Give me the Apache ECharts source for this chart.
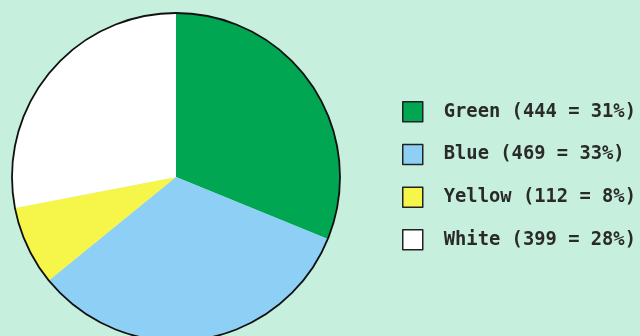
<!DOCTYPE html>
<html>
<head>
<meta charset="utf-8">
<script src="https://cdn.jsdelivr.net/npm/echarts@6/dist/echarts.min.js"></script>
<style>
  html, body { margin: 0; padding: 0; background: #c6f0dd; }
  #chart { width: 640px; height: 336px; }
</style>
</head>
<body>
<div id="chart"></div>
<script>
const names = ["Green", "Blue", "Yellow", "White"];
const values = [444, 469, 112, 399];
const colors = ["#00a651", "#8ecff5", "#f6f64a", "#ffffff"];

const total = values.reduce((a, b) => a + b, 0);
const chart = echarts.init(document.getElementById("chart"));

chart.setOption({
  backgroundColor: "#c6f0dd",
  animation: false,
  legend: {
    orient: "vertical",
    left: 397,
    top: 96,
    itemWidth: 20,
    itemHeight: 20,
    itemGap: 21.2,
    icon: "rect",
    data: names,
    selectedMode: false,
    itemStyle: { borderColor: "#222", borderWidth: 1.5 },
    textStyle: {
      fontFamily: "DejaVu Sans Mono",
      fontWeight: "bold",
      fontSize: 18.8,
      color: "#2a2a2a",
      padding: [0, 0, 0, 16]
    },
    formatter: function (name) {
      const i = names.indexOf(name);
      return name + " (" + values[i] + " = " + Math.round(values[i] / total * 100) + "%)";
    }
  },
  series: [
    {
      type: "pie",
      center: [176, 177],
      radius: 164,
      startAngle: 90,
      clockwise: true,
      label: { show: false },
      labelLine: { show: false },
      emphasis: { disabled: true },
      itemStyle: { borderWidth: 0 },
      data: names.map((n, i) => ({ name: n, value: values[i], itemStyle: { color: colors[i] } }))
    },
    {
      type: "pie",
      center: [176, 177],
      radius: 164,
      silent: true,
      label: { show: false },
      labelLine: { show: false },
      itemStyle: { color: "none", borderColor: "#111", borderWidth: 1.8 },
      data: [{ name: "outline", value: 1 }]
    }
  ]
});
</script>
</body>
</html>
